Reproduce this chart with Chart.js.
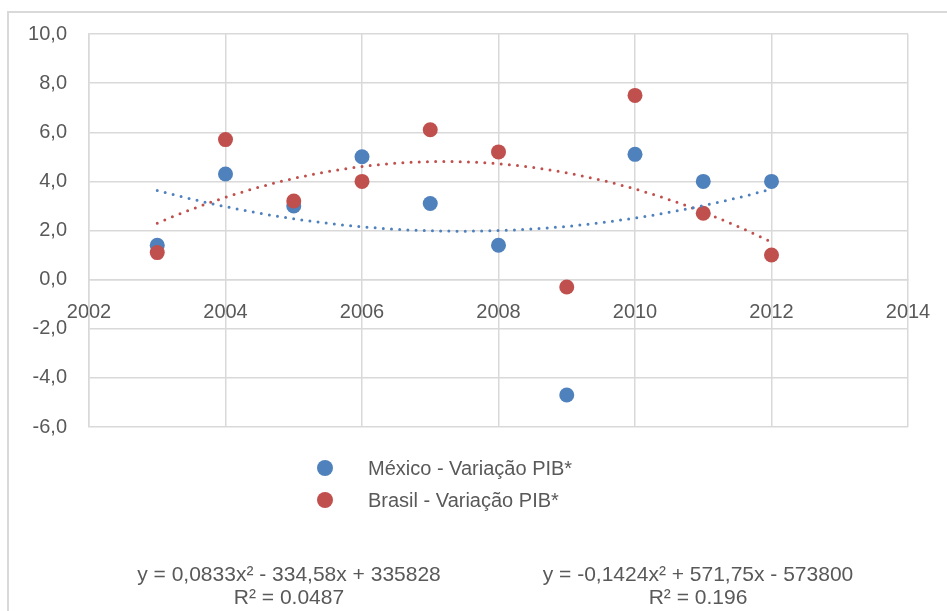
<!DOCTYPE html>
<html>
<head>
<meta charset="utf-8">
<script src="https://cdn.jsdelivr.net/npm/chart.js@4/dist/chart.umd.min.js"></script>
<style>
  html, body { margin: 0; padding: 0; background: #fff; }
  #wrap { position: relative; width: 947px; height: 611px; overflow: hidden;
          font-family: "Liberation Sans", Arial, sans-serif; color: #595959; }
  #frame { position: absolute; left: 7px; top: 11px; width: 1000px; height: 700px;
           border-left: 2px solid #d9d9d9; border-top: 2px solid #d9d9d9; box-sizing: border-box; }
  canvas { position: absolute; left: 0; top: 0; }
  .leg { position: absolute; left: 317px; height: 20px; font-size: 20px; line-height: 20px; white-space: nowrap; }
  .leg span.dot { position: absolute; left: 0; top: 2px; width: 16px; height: 16px; border-radius: 50%; }
  .leg span.txt { position: absolute; left: 51px; top: 0; }
  .eq { position: absolute; width: 420px; text-align: center; font-size: 21px; line-height: 23px; white-space: nowrap; }
</style>
</head>
<body>
<div id="wrap">
  <div id="frame"></div>
  <canvas id="c" width="947" height="611"></canvas>
  <div id="legend"></div>
  <div id="eqs"></div>
</div>
<script>
// Annual GDP variation (%), 2003–2012
const years = [2003, 2004, 2005, 2006, 2007, 2008, 2009, 2010, 2011, 2012];
const mexico = [1.4, 4.3, 3.0, 5.0, 3.1, 1.4, -4.7, 5.1, 4.0, 4.0];
const brasil = [1.1, 5.7, 3.2, 4.0, 6.1, 5.2, -0.3, 7.5, 2.7, 1.0];
const seriesNames = ["México - Variação PIB*", "Brasil - Variação PIB*"];
const seriesColors = ["#4f81bd", "#c0504d"];
const xTicks = [2002, 2004, 2006, 2008, 2010, 2012, 2014];
const yTicks = [-6, -4, -2, 0, 2, 4, 6, 8, 10];
const equations = [
  ["y = 0,0833x² - 334,58x + 335828", "R² = 0.0487"],
  ["y = -0,1424x² + 571,75x - 573800", "R² = 0.196"]
];

// Least-squares quadratic fit (x centred for numerical stability)
function quadFit(xs, ys) {
  const n = xs.length;
  const m = xs.reduce((a, b) => a + b, 0) / n;
  let S = [0, 0, 0, 0, 0], T = [0, 0, 0];
  xs.forEach((x0, i) => {
    const t = x0 - m;
    for (let k = 0; k < 5; k++) S[k] += Math.pow(t, k);
    for (let k = 0; k < 3; k++) T[k] += ys[i] * Math.pow(t, k);
  });
  const A = [[S[0], S[1], S[2], T[0]], [S[1], S[2], S[3], T[1]], [S[2], S[3], S[4], T[2]]];
  for (let i = 0; i < 3; i++) {
    for (let j = i + 1; j < 3; j++) {
      const f = A[j][i] / A[i][i];
      for (let k = i; k < 4; k++) A[j][k] -= f * A[i][k];
    }
  }
  const c = [0, 0, 0];
  for (let i = 2; i >= 0; i--) {
    let s = A[i][3];
    for (let k = i + 1; k < 3; k++) s -= A[i][k] * c[k];
    c[i] = s / A[i][i];
  }
  return x => { const t = x - m; return c[0] + c[1] * t + c[2] * t * t; };
}

// Fitted trendline sampled over the data range
function trendPoints(ys) {
  const f = quadFit(years, ys);
  const pts = [];
  const x0 = years[0], x1 = years[years.length - 1];
  for (let k = 0; k <= 200; k++) {
    const x = x0 + (x1 - x0) * k / 200;
    pts.push({ x: x, y: f(x) });
  }
  return pts;
}

const toXY = ys => years.map((x, i) => ({ x: x, y: ys[i] }));

const fontFamily = '"Liberation Sans", Arial, sans-serif';
const gridColor = '#d9d9d9';

new Chart(document.getElementById('c'), {
  type: 'scatter',
  data: {
    datasets: [
      { label: 'trend-mx', type: 'line', data: trendPoints(mexico), borderColor: seriesColors[0],
        borderWidth: 3, borderDash: [0, 8.2], borderCapStyle: 'round', pointRadius: 0, fill: false, order: 0 },
      { label: 'trend-br', type: 'line', data: trendPoints(brasil), borderColor: seriesColors[1],
        borderWidth: 3, borderDash: [0, 8.2], borderCapStyle: 'round', pointRadius: 0, fill: false, order: 0 },
      { label: seriesNames[1], data: toXY(brasil), backgroundColor: seriesColors[1], borderColor: seriesColors[1],
        pointRadius: 7.5, pointBorderWidth: 0, order: 1 },
      { label: seriesNames[0], data: toXY(mexico), backgroundColor: seriesColors[0], borderColor: seriesColors[0],
        pointRadius: 7.5, pointBorderWidth: 0, order: 2 }
    ]
  },
  options: {
    responsive: false,
    animation: false,
    devicePixelRatio: 1,
    layout: { padding: { left: 7, top: 33, right: 39, bottom: 184 } },
    plugins: { legend: { display: false }, tooltip: { enabled: false } },
    scales: {
      x: {
        type: 'linear', position: { y: 0 }, min: xTicks[0], max: xTicks[xTicks.length - 1],
        afterBuildTicks: s => { s.ticks = xTicks.map(v => ({ value: v })); },
        afterFit: s => { s.paddingLeft = 0; s.paddingRight = 0; },
        ticks: { callback: v => String(v), color: '#595959', font: { family: fontFamily, size: 20 }, padding: 21, maxRotation: 0 },
        grid: { color: gridColor, lineWidth: 1.5, drawTicks: false },
        border: { color: gridColor, width: 1.5 }
      },
      y: {
        min: yTicks[0], max: yTicks[yTicks.length - 1],
        afterBuildTicks: s => { s.ticks = yTicks.map(v => ({ value: v })); },
        afterFit: s => { s.width = 82; },
        ticks: { callback: v => v.toFixed(1).replace('.', ','), color: '#595959', font: { family: fontFamily, size: 20 }, padding: 22 },
        grid: { color: gridColor, lineWidth: 1.5, drawTicks: false },
        border: { color: gridColor, width: 1.5 }
      }
    }
  }
});

// Legend below the plot
const legend = document.getElementById('legend');
[0, 1].forEach(i => {
  const d = document.createElement('div');
  d.className = 'leg';
  d.style.top = (458 + i * 32) + 'px';
  d.innerHTML = '<span class="dot" style="background:' + seriesColors[i] + '"></span><span class="txt">' + seriesNames[i] + '</span>';
  legend.appendChild(d);
});

// Trendline equations
const eqs = document.getElementById('eqs');
[79, 488].forEach((left, i) => {
  const d = document.createElement('div');
  d.className = 'eq';
  d.style.left = left + 'px';
  d.style.top = '562px';
  d.textContent = equations[i][0];
  d.appendChild(document.createElement('br'));
  d.appendChild(document.createTextNode(equations[i][1]));
  eqs.appendChild(d);
});
</script>
</body>
</html>
